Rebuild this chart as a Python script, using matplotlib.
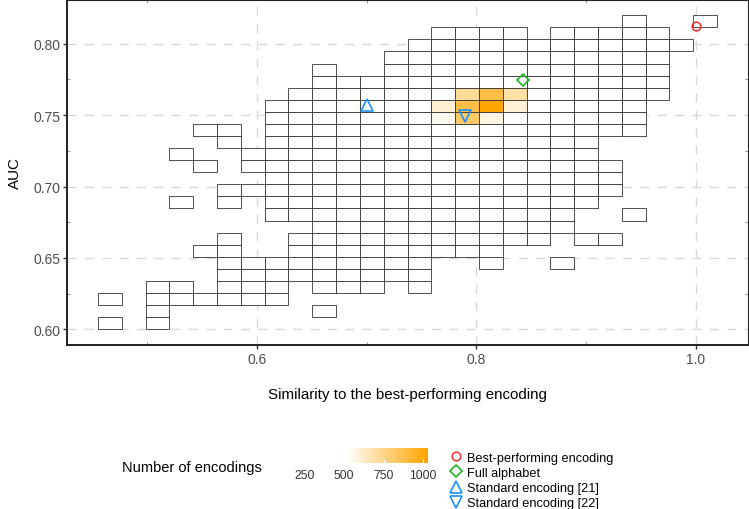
import numpy as np
import matplotlib
matplotlib.use("Agg")
import matplotlib.pyplot as plt
from matplotlib.colors import LinearSegmentedColormap, Normalize
from matplotlib.cm import ScalarMappable

plt.rcParams["font.family"] = ["Liberation Sans", "DejaVu Sans"]

# binning of the 2d histogram (26 x 26 bins)
sim_range = (0.4553, 1.0194)
auc_range = (0.600, 0.820)
n_bins = 26

# occupancy map, first line = highest AUC bin, first char = lowest similarity
# '.' empty bin, '#' bin with few encodings, letters = counts in hot_counts
occupancy = [
    "......................#..#",  # AUC bin 25
    "..............####.#####..",
    ".............############.",
    "............############..",
    ".........#..############..",
    ".........###############..",
    "........#######abc######..",
    ".......#######defg#####...",
    ".......#######hij######...",
    "....##.################...",
    ".....#.##############.....",
    "...#..###############.....",
    "....#.################....",
    ".......###############....",
    ".....#################....",
    "...#.#.##############.....",
    ".......#############..#...",
    ".........###########......",
    ".....#..###########.##....",
    "....##..#########.........",
    ".....#########..#..#......",
    ".....#########............",
    "..##.###.###.#............",
    "#.######..................",
    "..#......#................",
    "#.#.......................",  # AUC bin 0
]
hot_counts = {"a": 721, "b": 886, "c": 695,
              "d": 600, "e": 886, "f": 1030, "g": 597,
              "h": 545, "i": 824, "j": 572}
low_count = 100

# reference encodings
enc_names = ["Best-performing encoding", "Full alphabet",
             "Standard encoding [21]", "Standard encoding [22]"]
enc_sim = [1.000, 0.843, 0.700, 0.790]
enc_auc = [0.8125, 0.7748, 0.7571, 0.7494]
enc_marker = ["o", "D", "^", "v"]
enc_size = [6.2, 6.0, 8.2, 8.2]
enc_color = ["#EF3B3B", "#1FB81F", "#1E90FF", "#1E90FF"]

# ---------------------------------------------------------------------------
x_edges = np.linspace(sim_range[0], sim_range[1], n_bins + 1)
y_edges = np.linspace(auc_range[0], auc_range[1], n_bins + 1)
bw_x = x_edges[1] - x_edges[0]
bw_y = y_edges[1] - y_edges[0]

cell_x, cell_y, cell_n = [], [], []
for k, line in enumerate(occupancy):
    r = n_bins - 1 - k
    for c, ch in enumerate(line):
        if ch == ".":
            continue
        cell_x.append(x_edges[c])
        cell_y.append(y_edges[r])
        cell_n.append(hot_counts.get(ch, low_count))
cell_n = np.array(cell_n)

cmap = LinearSegmentedColormap.from_list("wo", ["white", "white", "orange"])
norm = Normalize(vmin=1, vmax=cell_n.max())

fig = plt.figure(figsize=(7.49, 5.10), dpi=100)
ax = fig.add_axes([67 / 749, 164 / 510, 681 / 749, 345.5 / 510])

ax.set_axisbelow(True)
ax.grid(True, which="major", color="#D9D9D9", linewidth=1.0,
        linestyle=(0, (6.5, 6.0)))
ax.bar(cell_x, bw_y, width=bw_x, bottom=cell_y, align="edge",
       color=cmap(norm(cell_n)), edgecolor="#333333", linewidth=0.6,
       zorder=2)

handles = []
for s, a, m, ms, col, name in zip(enc_sim, enc_auc, enc_marker, enc_size,
                                  enc_color, enc_names):
    h, = ax.plot([s], [a], linestyle="none", marker=m, markersize=ms,
                 markerfacecolor="none", markeredgecolor=col,
                 markeredgewidth=1.2, label=name, zorder=5)
    handles.append(h)

pad_x = 0.05 * (sim_range[1] - sim_range[0])
pad_y = 0.05 * (auc_range[1] - auc_range[0])
ax.set_xlim(sim_range[0] - pad_x, sim_range[1] + pad_x)
ax.set_ylim(auc_range[0] - pad_y, auc_range[1] + pad_y)

ax.set_xticks([0.6, 0.8, 1.0])
ax.set_xticklabels(["0.6", "0.8", "1.0"])
ax.set_xticks([0.5, 0.7, 0.9], minor=True)
ax.set_yticks([0.60, 0.65, 0.70, 0.75, 0.80])
ax.set_yticklabels(["0.60", "0.65", "0.70", "0.75", "0.80"])
ax.set_yticks([0.625, 0.675, 0.725, 0.775], minor=True)
ax.tick_params(which="major", direction="out", length=3, width=1.0,
               color="#333333", labelsize=10, labelcolor="#4D4D4D", pad=2)
ax.tick_params(which="minor", direction="in", length=2, width=0.8,
               color="#999999", top=True, right=True)

for side in ["left", "bottom"]:
    ax.spines[side].set_linewidth(1.4)
    ax.spines[side].set_color("#222222")
for side in ["top", "right"]:
    ax.spines[side].set_linewidth(0.8)
    ax.spines[side].set_color("#222222")

ax.set_xlabel("Similarity to the best-performing encoding", fontsize=10.9,
              labelpad=15)
ax.set_ylabel("AUC", fontsize=10.9, labelpad=8)

# colour legend
cax = fig.add_axes([265.4 / 749, 46 / 510, 162.3 / 749, 15 / 510])
cbar = fig.colorbar(ScalarMappable(norm=norm, cmap=cmap), cax=cax,
                    orientation="horizontal")
cbar.outline.set_visible(False)
cbar.set_ticks([250, 500, 750, 1000])
cbar.ax.tick_params(length=3, width=0.8, color="white", direction="in",
                    labelsize=8.85, labelcolor="#333333", pad=4)
fig.text(121.7 / 749, 1 - 468 / 510, "Number of encodings", fontsize=10.5,
         va="center", ha="left")

# shape legend
fig.legend(handles=handles, loc="center left",
           bbox_to_anchor=(449.6 / 749, 1 - 481.5 / 510),
           frameon=False, fontsize=9.2, handlelength=1.0,
           handletextpad=0.4, labelspacing=0.26, borderpad=0,
           borderaxespad=0, numpoints=1)

fig.savefig("out.png", dpi=100)
